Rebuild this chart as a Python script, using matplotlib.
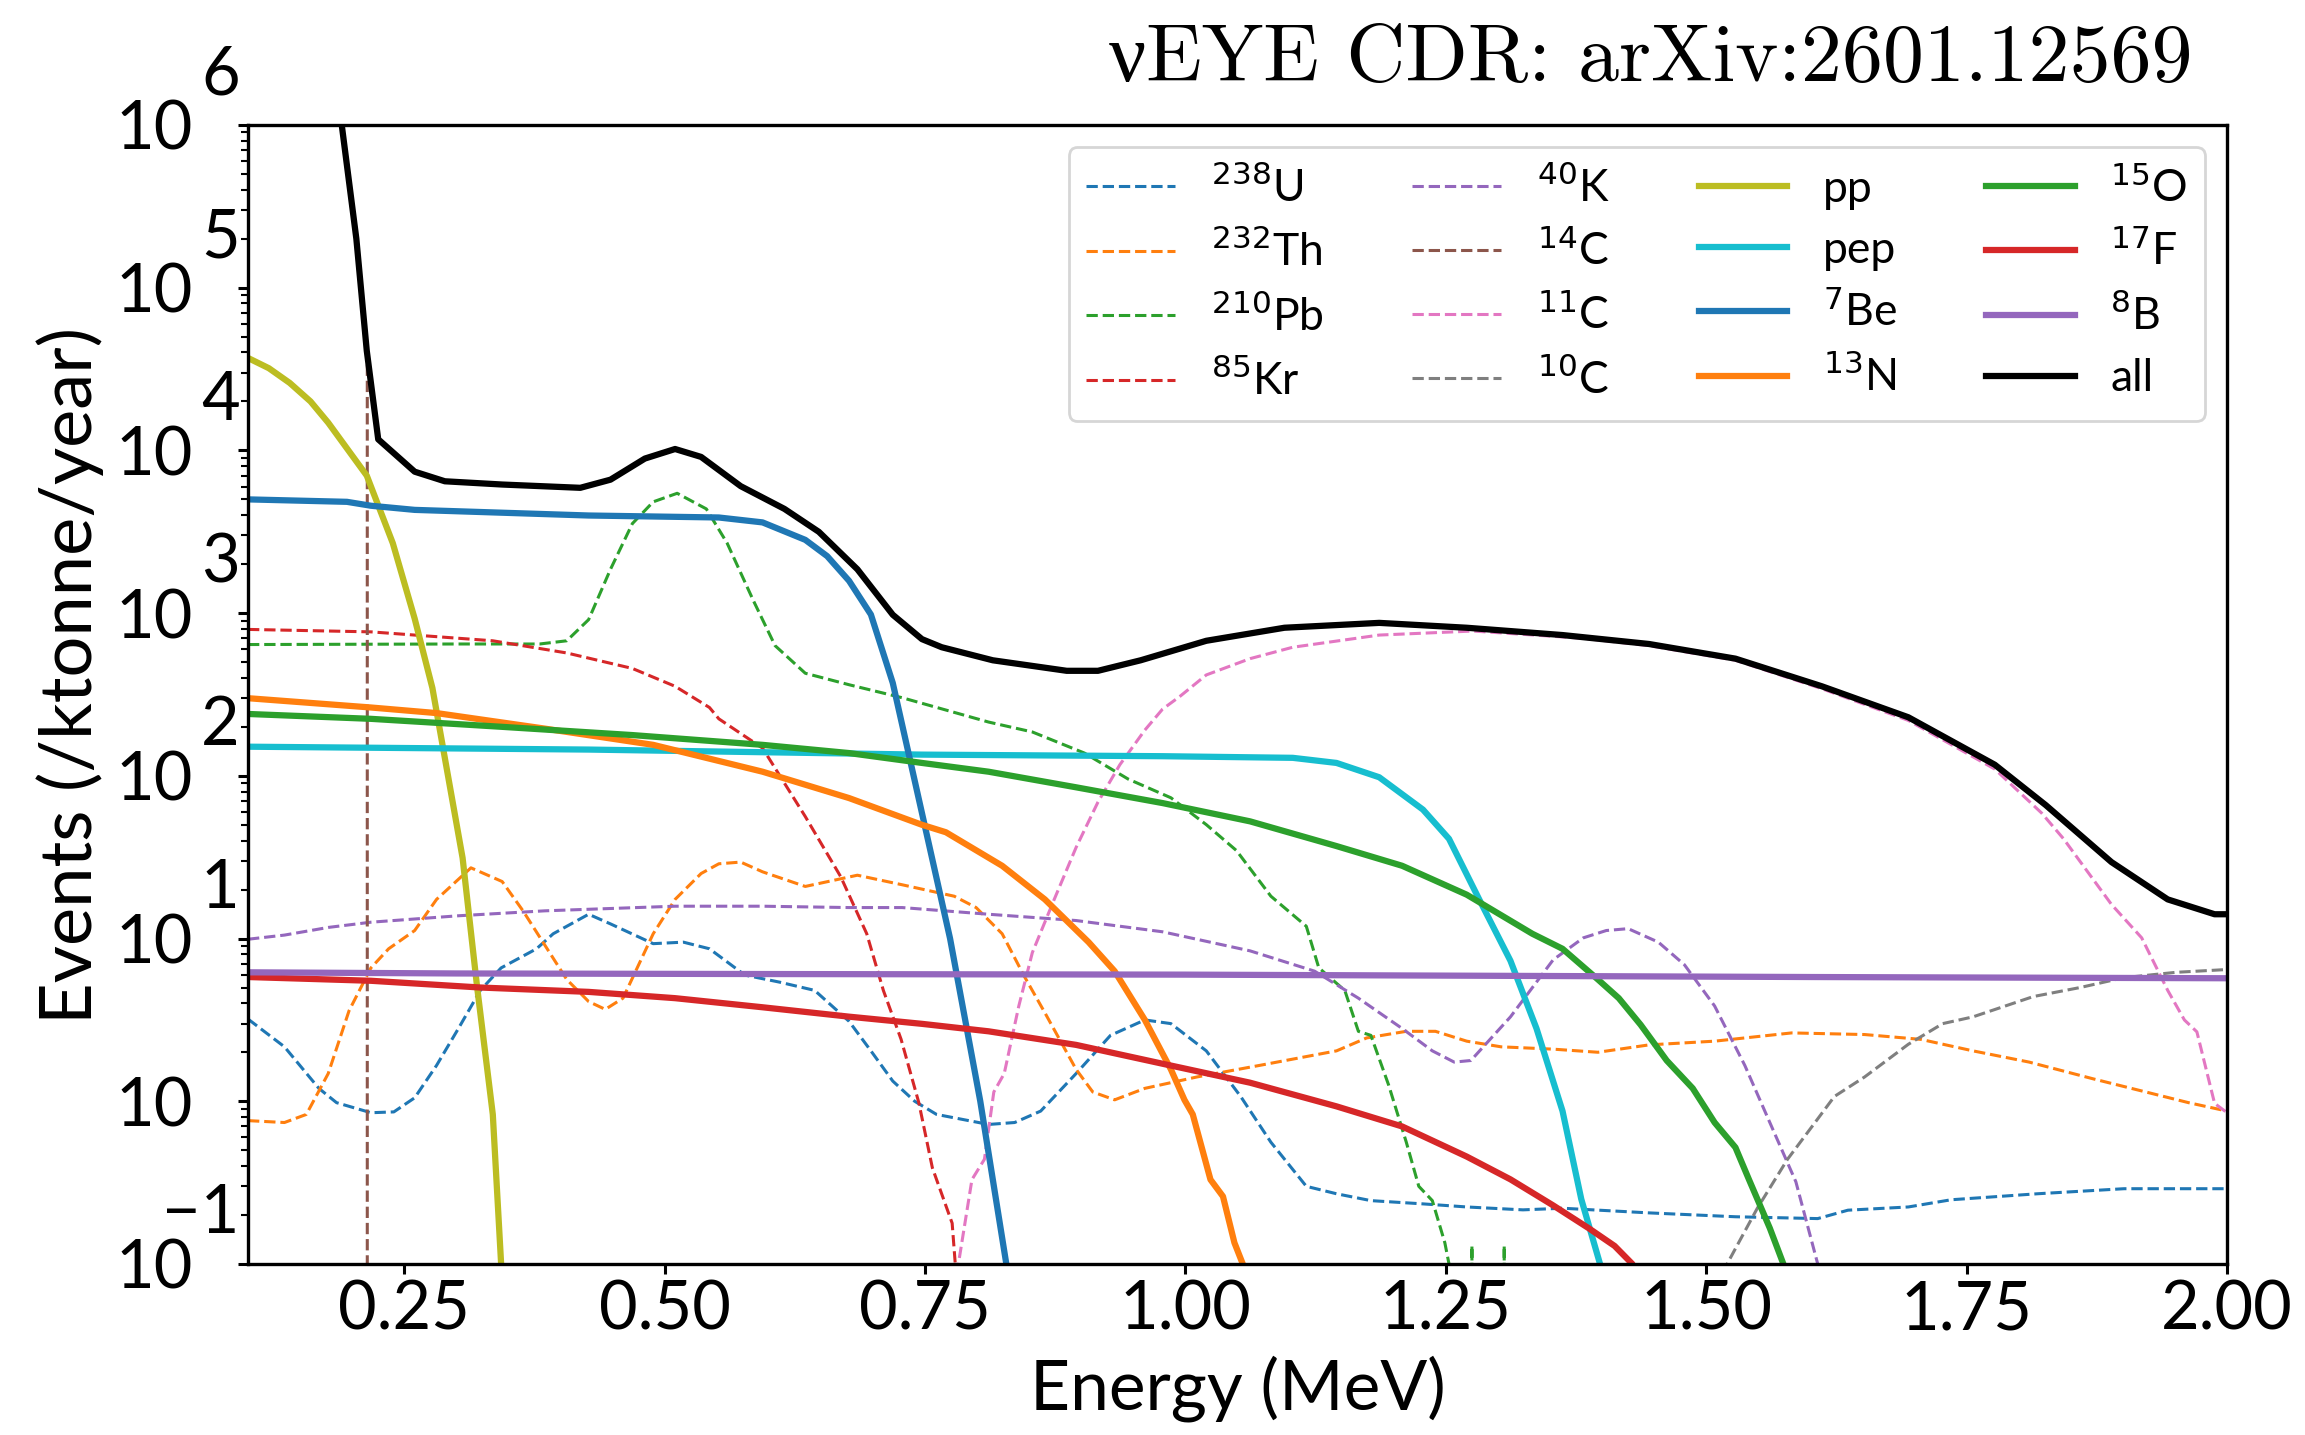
import numpy as np
import matplotlib
matplotlib.use("Agg")
import matplotlib.pyplot as plt
from matplotlib.ticker import FixedLocator, LogLocator, NullFormatter

plt.rcParams['font.family'] = ['Lato', 'DejaVu Sans']

# Event spectra (energy in MeV, events per ktonne per year)
# radioactive backgrounds
e_u238 = [0.10, 0.135, 0.168, 0.185, 0.218, 0.24, 0.26, 0.281, 0.302, 0.323, 0.343, 0.377, 0.393, 0.427,
          0.448, 0.489, 0.518, 0.543, 0.577, 0.61, 0.644, 0.677, 0.698, 0.719, 0.74, 0.761, 0.811, 0.836,
          0.861, 0.895, 0.928, 0.961, 0.986, 1.02, 1.053, 1.082, 1.116, 1.145, 1.178, 1.228, 1.27, 1.324,
          1.362, 1.445, 1.528, 1.607, 1.636, 1.694, 1.735, 1.818, 1.901, 2.0]
n_u238 = [3.2, 2.16, 1.2, 0.98, 0.85, 0.86, 1.05, 1.66, 2.8, 4.8, 6.6, 8.65, 10.7, 14.1,
          12.3, 9.3, 9.5, 8.65, 5.96, 5.4, 4.8, 3.1, 2.04, 1.33, 1.0, 0.83, 0.72, 0.74,
          0.87, 1.48, 2.54, 3.16, 3.0, 2.04, 1.07, 0.56, 0.30, 0.27, 0.245, 0.234, 0.224, 0.215,
          0.22, 0.206, 0.195, 0.19, 0.214, 0.224, 0.248, 0.27, 0.29, 0.29]

e_th232 = [0.10, 0.135, 0.156, 0.177, 0.197, 0.218, 0.235, 0.26, 0.281, 0.314, 0.344, 0.364, 0.385, 0.406,
           0.427, 0.443, 0.46, 0.489, 0.51, 0.535, 0.552, 0.573, 0.594, 0.635, 0.685, 0.728, 0.778, 0.799,
           0.824, 0.845, 0.865, 0.895, 0.911, 0.932, 0.961, 1.011, 1.071, 1.145, 1.174, 1.212, 1.24, 1.27,
           1.303, 1.353, 1.396, 1.445, 1.508, 1.582, 1.652, 1.706, 1.756, 1.81, 1.872, 1.922, 1.963, 2.0]
n_th232 = [0.76, 0.74, 0.83, 1.48, 3.6, 6.6, 8.65, 11.2, 17.4, 27.2, 22.4, 14.8, 9.1, 5.6,
           4.1, 3.67, 4.3, 10.7, 17.4, 25.1, 28.8, 29.5, 25.7, 20.9, 24.5, 21.4, 18.2, 15.5,
           10.7, 5.9, 3.5, 1.57, 1.14, 1.02, 1.2, 1.41, 1.66, 2.04, 2.45, 2.69, 2.69, 2.34,
           2.16, 2.09, 2.0, 2.22, 2.34, 2.63, 2.57, 2.4, 2.04, 1.74, 1.37, 1.14, 0.98, 0.87]

e_pb210 = [0.10, 0.30, 0.38, 0.406, 0.427, 0.448, 0.469, 0.489, 0.512, 0.540, 0.560, 0.585, 0.606, 0.635,
           0.677, 0.728, 0.811, 0.853, 0.903, 0.945, 0.986, 1.02, 1.049, 1.082, 1.116, 1.128, 1.153, 1.166,
           1.178, 1.195, 1.212, 1.224, 1.237, 1.249, 1.253, 1.255, 1.272, 1.275, 1.278, 1.303, 1.306, 1.309, 2.0]
n_pb210 = [641, 646, 646, 676, 912, 1860, 3550, 4830, 5450, 4370, 2690, 1200, 631, 427,
           363, 302, 214, 186, 138, 95.5, 73.3, 50.1, 34.7, 18.2, 11.9, 6.61, 4.79, 2.69,
           2.54, 1.26, 0.56, 0.30, 0.245, 0.135, 0.1, 0, 0, 0.13, 0, 0, 0.13, 0, 0]

e_kr85 = [0.10, 0.218, 0.335, 0.406, 0.469, 0.51, 0.543, 0.552, 0.594, 0.635, 0.669, 0.694, 0.71, 0.727,
          0.744, 0.757, 0.776, 0.779, 0.781]
n_kr85 = [794, 767, 676, 569, 457, 355, 263, 224, 148, 56.2, 24.0, 10.7, 4.79, 2.40,
          0.98, 0.39, 0.178, 0.1, 0]

e_k40 = [0.10, 0.135, 0.177, 0.218, 0.302, 0.385, 0.51, 0.594, 0.677, 0.728, 0.811, 0.895, 0.978, 1.062,
         1.124, 1.166, 1.208, 1.237, 1.258, 1.274, 1.312, 1.353, 1.382, 1.404, 1.425, 1.454, 1.479, 1.508,
         1.537, 1.561, 1.586, 1.607, 1.62]
n_k40 = [9.9, 10.5, 11.7, 12.6, 13.8, 14.8, 15.8, 15.8, 15.5, 15.5, 14.1, 12.9, 11.0, 8.4,
         6.3, 4.3, 2.8, 2.04, 1.74, 1.78, 3.3, 7.4, 10.1, 11.2, 11.5, 9.5, 6.9, 3.85,
         1.66, 0.74, 0.32, 0.1, 0.03]

e_c14 = [0.180, 0.189, 0.204, 0.2145, 0.2146]
n_c14 = [3.2e6, 1.12e6, 2.0e5, 4.0e4, 0]

e_c11 = [0.780, 0.782, 0.795, 0.807, 0.816, 0.826, 0.840, 0.853, 0.874, 0.895, 0.916, 0.937, 0.961, 0.978,
         0.995, 1.02, 1.062, 1.103, 1.186, 1.276, 1.382, 1.445, 1.528, 1.611, 1.694, 1.777, 1.822, 1.843,
         1.889, 1.918, 1.943, 1.959, 1.971, 1.988, 2.0]
n_c11 = [0, 0.1, 0.33, 0.44, 1.14, 1.48, 3.85, 8.2, 17.4, 36.3, 69, 117, 191, 257,
         309, 417, 525, 617, 733, 776, 700, 631, 513, 343, 219, 110, 59, 41,
         16.2, 10.1, 4.8, 3.16, 2.67, 0.97, 0.85]

e_c10 = [1.515, 1.52, 1.549, 1.578, 1.603, 1.623, 1.652, 1.694, 1.727, 1.756, 1.814, 1.859, 1.901, 1.951, 2.0]
n_c10 = [0, 0.1, 0.22, 0.44, 0.72, 1.07, 1.41, 2.24, 3.0, 3.3, 4.4, 5.0, 5.75, 6.2, 6.45]

# solar neutrinos
e_pp = [0.10, 0.12, 0.14, 0.16, 0.177, 0.214, 0.239, 0.26, 0.277, 0.306, 0.320, 0.335, 0.343, 0.35]
n_pp = [37000, 32000, 26000, 20000, 14800, 7000, 2690, 925, 347, 31.3, 5.0, 0.83, 0.1, 0.01]

e_pep = [0.10, 0.427, 0.747, 0.978, 1.103, 1.145, 1.186, 1.228, 1.253, 1.282, 1.312, 1.337, 1.362, 1.38,
         1.398, 1.41]
n_pep = [151, 145, 135, 132, 129, 120, 98, 62, 41, 17.4, 7.3, 2.8, 0.87, 0.25,
         0.1, 0.05]

e_be7 = [0.10, 0.195, 0.218, 0.26, 0.427, 0.552, 0.594, 0.635, 0.656, 0.677, 0.698, 0.719, 0.739, 0.774,
         0.803, 0.828, 0.835]
n_be7 = [5000, 4830, 4570, 4310, 3980, 3870, 3610, 2820, 2240, 1580, 980, 372, 100, 10,
         1.0, 0.1, 0.03]

e_n13 = [0.10, 0.218, 0.281, 0.385, 0.489, 0.594, 0.677, 0.747, 0.77, 0.824, 0.865, 0.907, 0.932, 0.961,
         0.986, 0.999, 1.007, 1.024, 1.036, 1.047, 1.055, 1.065]
n_n13 = [300, 263, 243, 195, 155, 106, 73, 50, 45, 28, 17.4, 9.5, 6.3, 3.16,
         1.57, 1.02, 0.83, 0.33, 0.26, 0.135, 0.1, 0.05]

e_o15 = [0.10, 0.218, 0.344, 0.469, 0.594, 0.677, 0.747, 0.811, 0.895, 0.978, 1.062, 1.145, 1.208, 1.27,
         1.333, 1.362, 1.396, 1.416, 1.437, 1.462, 1.487, 1.508, 1.528, 1.541, 1.561, 1.574, 1.585]
n_o15 = [240, 224, 200, 178, 155, 138, 120, 106, 85, 68, 52.5, 37, 28, 18.6,
         10.7, 8.65, 5.6, 4.3, 2.95, 1.78, 1.2, 0.74, 0.52, 0.33, 0.166, 0.1, 0.05]

e_f17 = [0.10, 0.218, 0.323, 0.427, 0.51, 0.594, 0.677, 0.747, 0.811, 0.895, 0.978, 1.062, 1.145, 1.208,
         1.27, 1.312, 1.353, 1.387, 1.412, 1.429, 1.44]
n_f17 = [5.8, 5.5, 5.0, 4.7, 4.3, 3.78, 3.31, 2.99, 2.69, 2.22, 1.70, 1.30, 0.93, 0.70,
         0.457, 0.331, 0.229, 0.166, 0.129, 0.1, 0.07]

e_b8 = [0.10, 0.3, 0.6, 1.0, 1.3, 1.6, 2.0]
n_b8 = [6.2, 6.1, 6.05, 6.0, 5.9, 5.8, 5.7]

# total of all components
e_all = [0.180, 0.189, 0.204, 0.214, 0.225, 0.26, 0.289, 0.344, 0.419, 0.448, 0.481, 0.51, 0.535, 0.573,
         0.615, 0.648, 0.685, 0.719, 0.747, 0.766, 0.815, 0.886, 0.916, 0.957, 1.02, 1.095, 1.186, 1.27,
         1.362, 1.445, 1.528, 1.611, 1.694, 1.777, 1.826, 1.889, 1.943, 1.988, 2.0]
n_all = [3.2e6, 1.12e6, 2.0e5, 4.1e4, 1.17e4, 7400, 6460, 6170, 5890, 6610, 8910, 10200, 9120, 6030,
         4370, 3160, 1860, 977, 692, 617, 513, 442, 442, 513, 676, 813, 871, 813,
         733, 646, 525, 355, 229, 117, 66, 29.5, 17.4, 14.1, 14.1]

ytick_vals = [1e-1, 1e0, 1e1, 1e2, 1e3, 1e4, 1e5, 1e6]
ytick_exps = ['\u22121', '', '1', '2', '3', '4', '5', '6']
xtick_vals = [0.25, 0.50, 0.75, 1.00, 1.25, 1.50, 1.75, 2.00]

backgrounds = [
    (e_u238, n_u238, r'$^{238}$U', 'C0'),
    (e_th232, n_th232, r'$^{232}$Th', 'C1'),
    (e_pb210, n_pb210, r'$^{210}$Pb', 'C2'),
    (e_kr85, n_kr85, r'$^{85}$Kr', 'C3'),
    (e_k40, n_k40, r'$^{40}$K', 'C4'),
    (e_c14, n_c14, r'$^{14}$C', 'C5'),
    (e_c11, n_c11, r'$^{11}$C', 'C6'),
    (e_c10, n_c10, r'$^{10}$C', 'C7'),
]
solar = [
    (e_pp, n_pp, 'pp', 'C8'),
    (e_pep, n_pep, 'pep', 'C9'),
    (e_be7, n_be7, r'$^{7}$Be', 'C0'),
    (e_n13, n_n13, r'$^{13}$N', 'C1'),
    (e_o15, n_o15, r'$^{15}$O', 'C2'),
    (e_f17, n_f17, r'$^{17}$F', 'C3'),
    (e_b8, n_b8, r'$^{8}$B', 'C4'),
]

fig = plt.figure(figsize=(23.05, 14.35), dpi=100)
ax = fig.add_axes([0.1076, 0.1192, 0.8586, 0.7937])
ax.set_yscale('log')

for e, n, lab, col in backgrounds:
    ax.plot(e, n, '--', color=col, lw=2.2, label=lab)
for e, n, lab, col in solar:
    ax.plot(e, n, '-', color=col, lw=4.5, label=lab)
ax.plot(e_all, n_all, '-', color='k', lw=4.5, label='all')

ax.set_xlim(0.1, 2.0)
ax.set_ylim(0.1, 1e6)

# axis ticks
ax.set_xticks(xtick_vals)
ax.set_xticklabels([f'{v:.2f}' for v in xtick_vals])
ax.yaxis.set_major_locator(FixedLocator(ytick_vals))
ax.yaxis.set_minor_locator(LogLocator(base=10, subs=np.arange(2, 10)))
ax.yaxis.set_minor_formatter(NullFormatter())
ax.set_yticklabels(['10'] * len(ytick_vals))
ax.tick_params(which='major', labelsize=48, length=7, width=2.2)
ax.tick_params(which='minor', length=5, width=1.5)
ax.tick_params(axis='y', which='major', pad=33)
ax.tick_params(axis='x', which='major', pad=4)
for s in ax.spines.values():
    s.set_linewidth(2.4)

# exponents of the y tick labels
for v, ex in zip(ytick_vals, ytick_exps):
    if ex:
        ax.annotate(ex, xy=(0, v), xycoords=ax.get_yaxis_transform(),
                    xytext=(-6, 22), textcoords='offset points',
                    ha='right', va='baseline', fontsize=48)

ax.set_xlabel('Energy (MeV)', fontsize=50, labelpad=10)
ax.set_ylabel('Events (/ktonne/year)', fontsize=52)
ax.yaxis.set_label_coords(-0.073, 0.517)

leg = ax.legend(ncol=4, loc='upper right', fontsize=32, handlelength=2.0,
                labelspacing=0.45, columnspacing=2.0)
leg.get_frame().set_linewidth(2)

fig.text(0.9514, 0.9436, '\u03bdEYE CDR: arXiv:2601.12569', ha='right', va='baseline',
         fontsize=59, fontfamily=['cmr10', 'Liberation Serif'])

fig.savefig('out.png', dpi=100)
